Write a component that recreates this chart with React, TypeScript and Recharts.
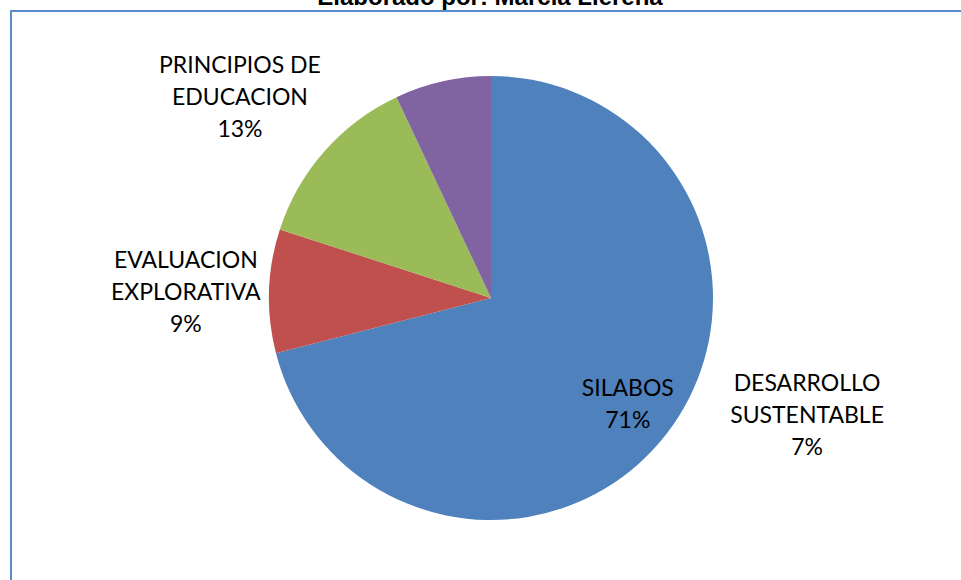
import { PieChart, Pie, Cell } from "recharts";

const categories = [
  "SILABOS",
  "EVALUACION EXPLORATIVA",
  "PRINCIPIOS DE EDUCACION",
  "DESARROLLO SUSTENTABLE",
];
const labelLines = [
  ["SILABOS"],
  ["EVALUACION", "EXPLORATIVA"],
  ["PRINCIPIOS DE", "EDUCACION"],
  ["DESARROLLO", "SUSTENTABLE"],
];
const percents = [71, 9, 13, 7];
const colors = ["#4F81BD", "#C0504D", "#9BBB59", "#8064A2"];

// where each label block sits: radius factor and angle (null = slice middle)
const labelPlace: { k: number; angle: number | null }[] = [
  { k: 0.78, angle: null },
  { k: 1.375, angle: 178.9 },
  { k: 1.449, angle: 141.3 },
  { k: 1.518, angle: -20.3 },
];

const FONT = "Lato, 'Open Sans', sans-serif";
const LINE_H = 32;

const data = categories.map((name, i) => ({
  name,
  value: percents[i],
  lines: labelLines[i],
}));

function renderLabel(props: any) {
  const { cx, cy, midAngle, outerRadius, index } = props;
  const place = labelPlace[index];
  const ang = ((place.angle ?? midAngle) * Math.PI) / 180;
  const x = cx + outerRadius * place.k * Math.cos(ang);
  const y = cy - outerRadius * place.k * Math.sin(ang);
  const rows = [...data[index].lines, `${percents[index]}%`];
  const firstY = y - ((rows.length - 1) * LINE_H) / 2 + 8;
  return (
    <text
      key={`lbl-${index}`}
      x={x}
      y={firstY}
      textAnchor="middle"
      fill="#000"
      fontFamily={FONT}
      fontSize={23}
    >
      {rows.map((r, i) => (
        <tspan key={i} x={x} y={firstY + i * LINE_H}>
          {r}
        </tspan>
      ))}
    </text>
  );
}

export default function App() {
  return (
    <div
      style={{
        position: "absolute",
        left: 0,
        top: 0,
        width: 961,
        height: 580,
        background: "#fff",
        overflow: "hidden",
      }}
    >
      <svg
        width={961}
        height={580}
        style={{ position: "absolute", left: 0, top: 0 }}
      >
        <rect
          x={11}
          y={11}
          width={980}
          height={600}
          fill="none"
          stroke="#5B8BC9"
          strokeWidth={2}
        />
        <text
          x={490}
          y={5}
          textAnchor="middle"
          fontFamily="'Liberation Sans', Arial, sans-serif"
          fontWeight="bold"
          fontSize={24}
          fill="#000"
        >
          Elaborado por: Marcia Llerena
        </text>
      </svg>
      <div style={{ position: "absolute", left: 0, top: 0 }}>
        <PieChart
          width={961}
          height={580}
          margin={{ top: 0, right: 0, bottom: 0, left: 0 }}
        >
          <Pie
            data={data}
            dataKey="value"
            nameKey="name"
            cx={491}
            cy={298}
            outerRadius={222}
            startAngle={90}
            endAngle={-270}
            stroke="none"
            label={renderLabel}
            labelLine={false}
            isAnimationActive={false}
          >
            {data.map((d, i) => (
              <Cell key={d.name} fill={colors[i]} />
            ))}
          </Pie>
        </PieChart>
      </div>
    </div>
  );
}
